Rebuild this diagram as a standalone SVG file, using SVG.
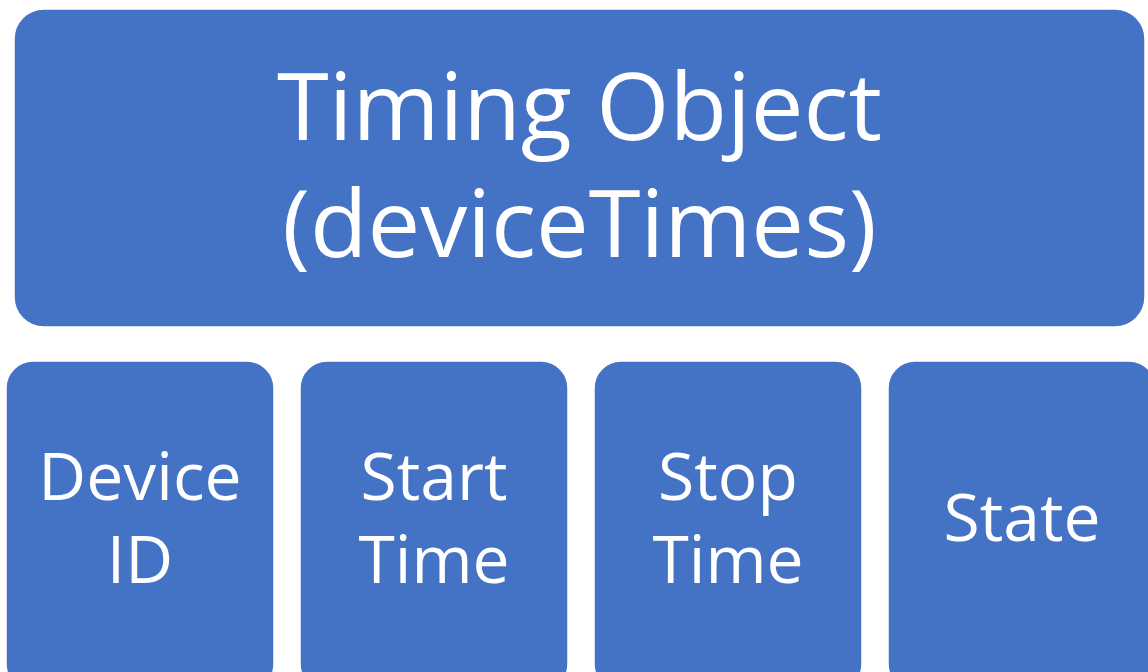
<svg xmlns="http://www.w3.org/2000/svg" width="1148" height="672" viewBox="0 0 1148 672">
  <style>
    .box { fill: #4472C4; stroke: #ffffff; stroke-width: 1.5; }
    .lbl { fill: #ffffff; font-family: "Open Sans", "Noto Sans", "Liberation Sans", sans-serif; text-anchor: middle; }
    .big { font-size: 94px; }
    .small { font-size: 66px; }
  </style>
  <rect x="0" y="0" width="1148" height="672" fill="#ffffff"/>
  <g id="timing-object">
    <rect class="box" x="14" y="9" width="1131" height="318" rx="30" ry="30"/>
    <text class="lbl big" x="579.5" y="140">Timing Object</text>
    <text class="lbl big" x="579.5" y="257">(deviceTimes)</text>
  </g>
  <g id="device-id">
    <rect class="box" x="6" y="361" width="268" height="330" rx="27" ry="27"/>
    <text class="lbl small" x="140" y="500">Device</text>
    <text class="lbl small" x="140" y="583">ID</text>
  </g>
  <g id="start-time">
    <rect class="box" x="300" y="361" width="268" height="330" rx="27" ry="27"/>
    <text class="lbl small" x="434" y="500">Start</text>
    <text class="lbl small" x="434" y="583">Time</text>
  </g>
  <g id="stop-time">
    <rect class="box" x="594" y="361" width="268" height="330" rx="27" ry="27"/>
    <text class="lbl small" x="728" y="500">Stop</text>
    <text class="lbl small" x="728" y="583">Time</text>
  </g>
  <g id="state">
    <rect class="box" x="888" y="361" width="268" height="330" rx="27" ry="27"/>
    <text class="lbl small" x="1022" y="541">State</text>
  </g>
  <g id="connectors"></g>
</svg>
